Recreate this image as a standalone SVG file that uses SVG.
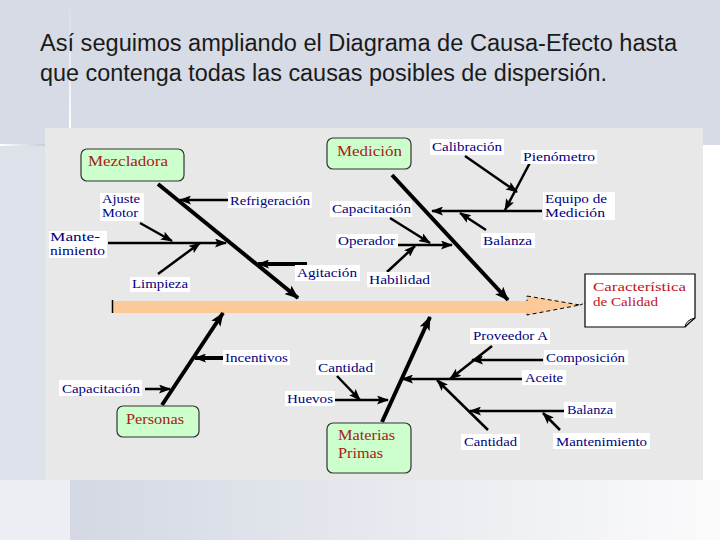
<svg xmlns="http://www.w3.org/2000/svg" width="720" height="540" viewBox="0 0 720 540">
<defs>
<linearGradient id="bottomGrad" x1="0" y1="0" x2="1" y2="0">
<stop offset="0" stop-color="#d3d8e2"/>
<stop offset="1" stop-color="#fbfbfc"/>
</linearGradient>
<linearGradient id="vline" x1="0" y1="0" x2="0" y2="1">
<stop offset="0" stop-color="#d6dbe5"/>
<stop offset="1" stop-color="#ffffff"/>
</linearGradient>
<linearGradient id="hline" x1="0" y1="0" x2="1" y2="0">
<stop offset="0" stop-color="#ffffff"/>
<stop offset="1" stop-color="#c8ccd4"/>
</linearGradient>
<marker id="big" viewBox="0 0 14 11" refX="13" refY="5.5" markerWidth="14" markerHeight="11" markerUnits="userSpaceOnUse" orient="auto">
<path d="M0,0 L14,5.5 L0,11 L3,5.5 Z" fill="#000"/>
</marker>
<marker id="small" viewBox="0 0 12 9" refX="11" refY="4.5" markerWidth="12" markerHeight="9" markerUnits="userSpaceOnUse" orient="auto">
<path d="M0,0 L12,4.5 L0,9 L2.5,4.5 Z" fill="#000"/>
</marker>
</defs>
<style>
.title{font-family:"Liberation Sans","DejaVu Sans",sans-serif;font-size:23px;fill:#1a1a1a}
.lbl{font-family:"Liberation Serif","DejaVu Serif",serif;font-size:13px;fill:#000080}
.lbg{fill:#ffffff}
.grp{fill:#ccffcc;stroke:#333;stroke-width:1.2}
.gtx{font-family:"Liberation Serif","DejaVu Serif",serif;font-size:15px;fill:#a8201a}
.ctx{font-family:"Liberation Serif","DejaVu Serif",serif;font-size:13px;fill:#c0141c}
.bone{stroke:#000;stroke-width:4;fill:none;marker-end:url(#big)}
.br{stroke:#000;stroke-width:2.5;fill:none;marker-end:url(#small)}
.brt{stroke:#000;stroke-width:4;fill:none;marker-end:url(#small)}
</style>
<!-- slide background -->
<rect x="0" y="0" width="720" height="540" fill="#d6dbe5"/>
<rect x="0" y="145" width="45" height="335" fill="#dde1e9"/>
<rect x="703" y="145" width="17" height="335" fill="#ffffff"/>
<rect x="0" y="480" width="70" height="60" fill="#eceef3"/>
<rect x="70" y="480" width="650" height="60" fill="url(#bottomGrad)"/>
<rect x="69" y="0" width="2" height="128" fill="url(#vline)"/>
<rect x="0" y="144" width="45" height="2" fill="url(#hline)"/>
<text class="title" x="40" y="51" textLength="637" lengthAdjust="spacingAndGlyphs">Así seguimos ampliando el Diagrama de Causa-Efecto hasta</text>
<text class="title" x="40" y="81" textLength="567" lengthAdjust="spacingAndGlyphs">que contenga todas las causas posibles de dispersión.</text>
<!-- diagram panel -->
<rect x="45" y="128" width="658" height="352" fill="#e8e8e8"/>
<!-- spine -->
<g id="spine">
<polygon points="527,296 580,305 527,315" fill="#fcc998" stroke="#000" stroke-width="1" stroke-dasharray="4,3"/>
<rect x="112" y="301" width="417" height="12" fill="#fcc998"/>
<line x1="112.5" y1="300" x2="112.5" y2="313" stroke="#000" stroke-width="1.5"/>
<line x1="580" y1="305" x2="585" y2="303" stroke="#000" stroke-width="1" stroke-dasharray="3,2"/>
</g>
<!-- connectors -->
<g id="connectors">
<path class="bone" d="M158,184 L298,298"/>
<path class="bone" d="M392,175 L508,300"/>
<path class="bone" d="M162,405 L223,313"/>
<path class="bone" d="M382,422 L430,317"/>
<path class="br" d="M228,200 L180,200"/>
<path class="br" d="M140,223 L172,241"/>
<path class="br" d="M108,243 L226,243"/>
<path class="br" d="M158,274 L200,243"/>
<path class="brt" d="M307,264 L258,264"/>
<path class="br" d="M465,156 L517,192"/>
<path class="br" d="M533,157 L505,210"/>
<path class="br" d="M542,211 L432,211"/>
<path class="br" d="M390,218 L430,243"/>
<path class="br" d="M486,230 L460,213"/>
<path class="br" d="M398,245 L452,245"/>
<path class="br" d="M387,272 L415,246"/>
<path class="brt" d="M225,358 L195,358"/>
<path class="br" d="M145,389 L170,389"/>
<path class="br" d="M337,376 L360,400"/>
<path class="br" d="M335,400 L388,400"/>
<path class="br" d="M522,379 L402,379"/>
<path class="br" d="M492,346 L450,379"/>
<path class="br" d="M543,360 L472,360"/>
<path class="br" d="M488,430 L437,380"/>
<path class="br" d="M564,411 L470,411"/>
<path class="br" d="M560,430 L543,413"/>
</g>
<!-- group nodes -->
<g id="mezcladora"><rect class="grp" x="81" y="149" width="103" height="32" rx="6"/><text class="gtx" x="88" y="166" textLength="80" lengthAdjust="spacingAndGlyphs">Mezcladora</text></g>
<g id="medicion"><rect class="grp" x="327" y="138" width="84" height="31" rx="6"/><text class="gtx" x="337" y="156" textLength="65" lengthAdjust="spacingAndGlyphs">Medición</text></g>
<g id="personas"><rect class="grp" x="117" y="406" width="82" height="31" rx="6"/><text class="gtx" x="126" y="424" textLength="58" lengthAdjust="spacingAndGlyphs">Personas</text></g>
<g id="materias"><rect class="grp" x="327" y="423" width="84" height="50" rx="6"/><text class="gtx" x="338" y="440" textLength="57" lengthAdjust="spacingAndGlyphs">Materias</text><text class="gtx" x="338" y="458" textLength="45" lengthAdjust="spacingAndGlyphs">Primas</text></g>
<g id="caracteristica">
<path d="M585,274 H695 V318 Q690,322 685,327 H585 Z" fill="#ffffff" stroke="#000" stroke-width="1.2"/>
<path d="M685,327 Q686,320 695,318" fill="none" stroke="#000" stroke-width="1"/>
<text class="ctx" x="593" y="291" textLength="93" lengthAdjust="spacingAndGlyphs">Característica</text>
<text class="ctx" x="593" y="306" textLength="65" lengthAdjust="spacingAndGlyphs">de Calidad</text>
</g>
<!-- cause labels -->
<g id="refrigeracion"><rect class="lbg" x="228" y="192" width="84" height="16"/><text class="lbl" x="230" y="205" textLength="80" lengthAdjust="spacingAndGlyphs">Refrigeración</text></g>
<g id="ajuste"><rect class="lbg" x="100" y="193" width="44" height="28"/><text class="lbl" x="102" y="203" textLength="38" lengthAdjust="spacingAndGlyphs">Ajuste</text><text class="lbl" x="102" y="217" textLength="36" lengthAdjust="spacingAndGlyphs">Motor</text></g>
<g id="mantenimiento1"><rect class="lbg" x="49" y="231" width="58" height="27"/><text class="lbl" x="50" y="241" textLength="50" lengthAdjust="spacingAndGlyphs">Mante-</text><text class="lbl" x="50" y="255" textLength="55" lengthAdjust="spacingAndGlyphs">nimiento</text></g>
<g id="limpieza"><rect class="lbg" x="130" y="277" width="60" height="15"/><text class="lbl" x="132" y="288" textLength="56" lengthAdjust="spacingAndGlyphs">Limpieza</text></g>
<g id="agitacion"><rect class="lbg" x="295" y="265" width="65" height="16"/><text class="lbl" x="297" y="277" textLength="60" lengthAdjust="spacingAndGlyphs">Agitación</text></g>
<g id="calibracion"><rect class="lbg" x="430" y="139" width="74" height="16"/><text class="lbl" x="432" y="151" textLength="70" lengthAdjust="spacingAndGlyphs">Calibración</text></g>
<g id="pienometro"><rect class="lbg" x="521" y="150" width="76" height="14"/><text class="lbl" x="523" y="161" textLength="72" lengthAdjust="spacingAndGlyphs">Pienómetro</text></g>
<g id="equipo"><rect class="lbg" x="543" y="192" width="72" height="28"/><text class="lbl" x="545" y="203" textLength="62" lengthAdjust="spacingAndGlyphs">Equipo de</text><text class="lbl" x="545" y="217" textLength="60" lengthAdjust="spacingAndGlyphs">Medición</text></g>
<g id="capacitacion1"><rect class="lbg" x="330" y="201" width="82" height="16"/><text class="lbl" x="332" y="213" textLength="79" lengthAdjust="spacingAndGlyphs">Capacitación</text></g>
<g id="operador"><rect class="lbg" x="336" y="234" width="62" height="14"/><text class="lbl" x="338" y="245" textLength="57" lengthAdjust="spacingAndGlyphs">Operador</text></g>
<g id="balanza1"><rect class="lbg" x="481" y="233" width="54" height="15"/><text class="lbl" x="483" y="245" textLength="49" lengthAdjust="spacingAndGlyphs">Balanza</text></g>
<g id="habilidad"><rect class="lbg" x="367" y="272" width="64" height="15"/><text class="lbl" x="369" y="284" textLength="61" lengthAdjust="spacingAndGlyphs">Habilidad</text></g>
<g id="incentivos"><rect class="lbg" x="223" y="350" width="67" height="15"/><text class="lbl" x="225" y="362" textLength="63" lengthAdjust="spacingAndGlyphs">Incentivos</text></g>
<g id="capacitacion2"><rect class="lbg" x="59" y="380" width="83" height="16"/><text class="lbl" x="62" y="393" textLength="78" lengthAdjust="spacingAndGlyphs">Capacitación</text></g>
<g id="cantidad1"><rect class="lbg" x="316" y="360" width="59" height="15"/><text class="lbl" x="318" y="372" textLength="55" lengthAdjust="spacingAndGlyphs">Cantidad</text></g>
<g id="huevos"><rect class="lbg" x="285" y="391" width="50" height="15"/><text class="lbl" x="287" y="403" textLength="46" lengthAdjust="spacingAndGlyphs">Huevos</text></g>
<g id="proveedor"><rect class="lbg" x="470" y="328" width="80" height="16"/><text class="lbl" x="473" y="340" textLength="75" lengthAdjust="spacingAndGlyphs">Proveedor A</text></g>
<g id="composicion"><rect class="lbg" x="544" y="350" width="84" height="15"/><text class="lbl" x="546" y="362" textLength="79" lengthAdjust="spacingAndGlyphs">Composición</text></g>
<g id="aceite"><rect class="lbg" x="522" y="370" width="44" height="15"/><text class="lbl" x="525" y="382" textLength="38" lengthAdjust="spacingAndGlyphs">Aceite</text></g>
<g id="balanza2"><rect class="lbg" x="564" y="402" width="52" height="16"/><text class="lbl" x="567" y="414" textLength="46" lengthAdjust="spacingAndGlyphs">Balanza</text></g>
<g id="cantidad2"><rect class="lbg" x="461" y="434" width="59" height="16"/><text class="lbl" x="464" y="446" textLength="53" lengthAdjust="spacingAndGlyphs">Cantidad</text></g>
<g id="mantenimiento2"><rect class="lbg" x="553" y="433" width="97" height="16"/><text class="lbl" x="556" y="446" textLength="91" lengthAdjust="spacingAndGlyphs">Mantenimiento</text></g>
</svg>
